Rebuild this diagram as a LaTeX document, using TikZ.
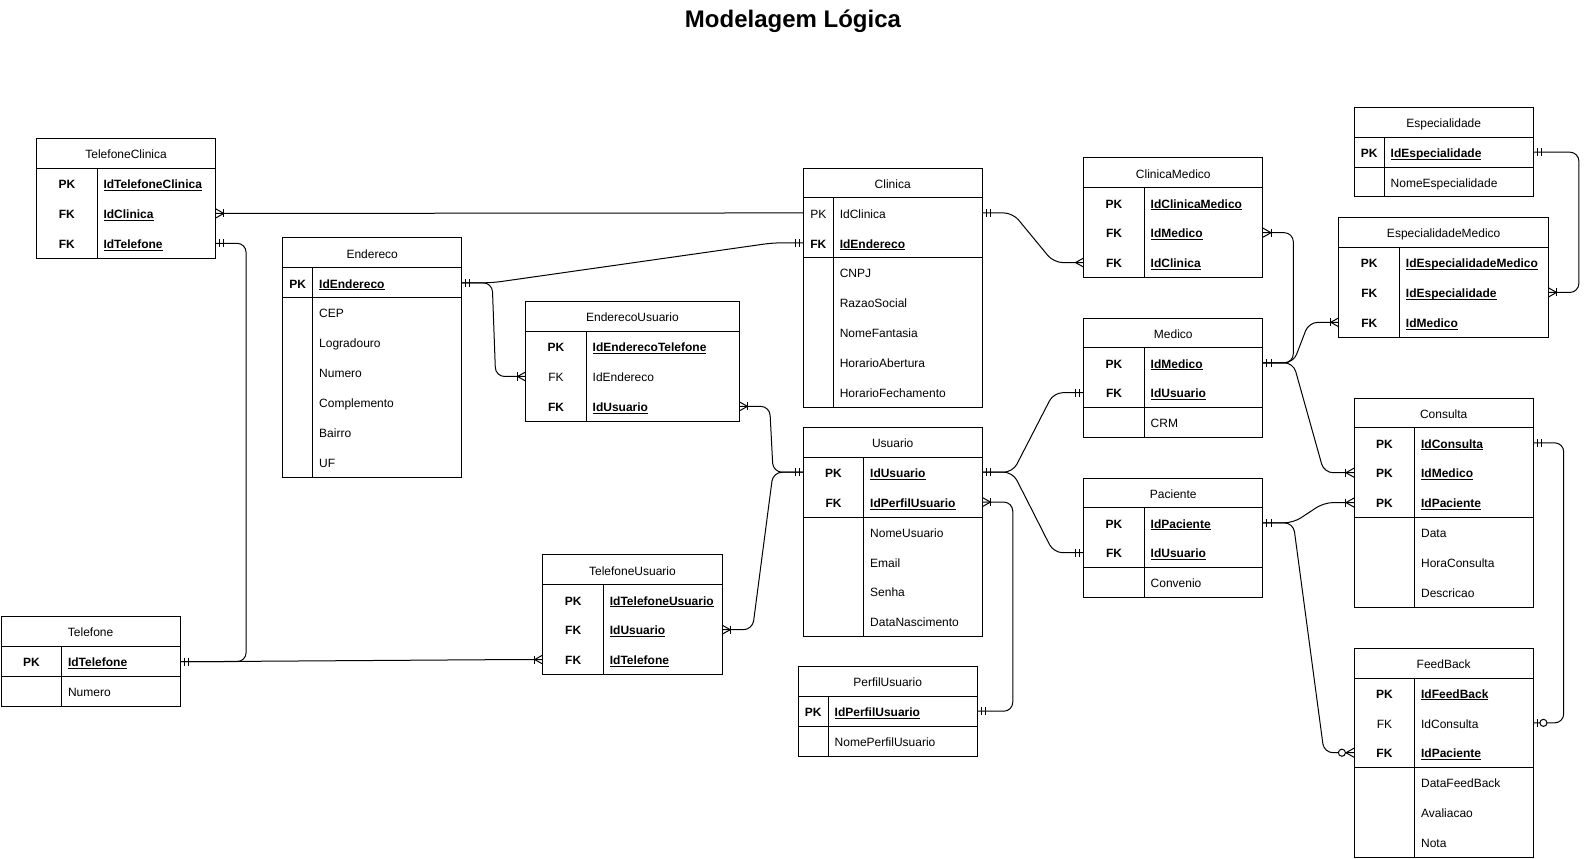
\documentclass[tikz,border=0pt]{standalone}
\usepackage{fontspec}
\setmainfont{Liberation Sans}
\newcommand\keyf[1]{\setbox0=\hbox{\bfseries #1}\rlap{\copy0}\rule[-2.2pt]{\wd0}{0.9pt}}
\def\ersc{1.01276}
\tikzset{
  ln/.style={line width=1pt, draw=black},
  tbl/.style={draw=black, line width=1pt, inner sep=0pt, outer sep=0pt},
  rowbox/.style={inner sep=0pt, outer sep=0pt, minimum height={29.5*\ersc*1pt}},
  hdr/.style={inner sep=0pt, text height=10.4pt, text depth=0pt, font=\fontsize{12}{14}\selectfont},
  keytxt/.style={inner sep=0pt, text height=10.4pt, text depth=0pt, font=\fontsize{12}{14}\selectfont},
  fldtxt/.style={inner sep=0pt, anchor=west, text height=10.4pt, text depth=0pt, font=\fontsize{12}{14}\selectfont},
  conn/.style={line width=1pt, rounded corners=9pt},
  mk/.style={line width=1pt},
}
\newcommand\ertable[8]{%
  \def\erL{#2}\def\erT{#3}\def\erW{#4}\def\erK{#5}%
  \pgfmathsetmacro\erH{29.5*(1+#6+#7)}%
  \node[tbl, minimum width={#4*\ersc*1pt}, minimum height={\erH*\ersc*1pt}, anchor=north west] (#1) at (#2,#3) {};
  \node[hdr] (#1h) at (#2+#4/2, #3+14.75) {#8};
  \draw[ln] (#2,#3+29.5) -- ++(#4,0);
  \draw[ln] (#2+#5,#3+29.5) -- (#2+#5,#3+\erH);
  \ifnum#7>0 \draw[ln] (#2,#3+29.5+29.5*#6) -- ++(#4,0);\fi
}
\newcommand\erow[4]{%
  \node[rowbox, minimum width={\erW*\ersc*1pt}, anchor=west] (#1) at (\erL, \erT+29.5*#2+14.75) {};
  \node[keytxt] (#1k) at (\erL+\erK/2, \erT+29.5*#2+14.75) {#3};
  \node[fldtxt] (#1f) at (\erL+\erK+6, \erT+29.5*#2+14.75) {#4};
}
\newcommand\mkOne[2]{\draw[mk,shift={(#1)}] (#2*4,-4) -- (#2*4,4) (#2*8,-4) -- (#2*8,4);}
\newcommand\mkMany[2]{\draw[mk,shift={(#1)}] (0,-4.5) -- (#2*8,0) -- (0,4.5);}
\newcommand\mkOneMany[2]{\mkMany{#1}{#2}\draw[mk,shift={(#1)}] (#2*8,-4) -- (#2*8,4);}
\newcommand\mkZeroMany[2]{\mkMany{#1}{#2}\draw[mk,shift={(#1)},fill=white] (#2*12,0) circle (3.5);}
\newcommand\mkZeroOne[2]{\draw[mk,shift={(#1)}] (#2*4,-4) -- (#2*4,4); \draw[mk,shift={(#1)},fill=white] (#2*10,0) circle (3.5);}
\begin{document}
\begin{tikzpicture}[x=1.01276pt,y=-1.01276pt]
\fill[white] (0,0) rectangle (1568,847.2);
\useasboundingbox (0,0) rectangle (1568,847.2);
\node[inner sep=0pt, text height=17.2pt, text depth=0pt, font=\fontsize{24}{28}\selectfont\bfseries] (title) at (783,19) {Modelagem Lógica};

% TelefoneClinica
\ertable{tc}{36}{137}{177}{60}{3}{0}{TelefoneClinica}
\erow{tc1}{1}{\textbf{PK}}{\keyf{IdTelefoneClinica}}
\erow{tc2}{2}{\textbf{FK}}{\keyf{IdClinica}}
\erow{tc3}{3}{\textbf{FK}}{\keyf{IdTelefone}}

% Endereco
\ertable{en}{279}{235}{177}{30}{1}{6}{Endereco}
\erow{en1}{1}{\textbf{PK}}{\keyf{IdEndereco}}
\erow{en2}{2}{}{CEP}
\erow{en3}{3}{}{Logradouro}
\erow{en4}{4}{}{Numero}
\erow{en5}{5}{}{Complemento}
\erow{en6}{6}{}{Bairro}
\erow{en7}{7}{}{UF}

% EnderecoUsuario
\ertable{eu}{519}{298}{211}{60}{3}{0}{EnderecoUsuario}
\erow{eu1}{1}{\textbf{PK}}{\keyf{IdEnderecoTelefone}}
\erow{eu2}{2}{FK}{IdEndereco}
\erow{eu3}{3}{\textbf{FK}}{\keyf{IdUsuario}}

% Clinica
\ertable{cl}{793}{166}{177}{30}{2}{5}{Clinica}
\erow{cl1}{1}{PK}{IdClinica}
\erow{cl2}{2}{\textbf{FK}}{\keyf{IdEndereco}}
\erow{cl3}{3}{}{CNPJ}
\erow{cl4}{4}{}{RazaoSocial}
\erow{cl5}{5}{}{NomeFantasia}
\erow{cl6}{6}{}{HorarioAbertura}
\erow{cl7}{7}{}{HorarioFechamento}

% ClinicaMedico
\ertable{cm}{1070}{156}{177}{60}{3}{0}{ClinicaMedico}
\erow{cm1}{1}{\textbf{PK}}{\keyf{IdClinicaMedico}}
\erow{cm2}{2}{\textbf{FK}}{\keyf{IdMedico}}
\erow{cm3}{3}{\textbf{FK}}{\keyf{IdClinica}}

% Especialidade
\ertable{es}{1337}{106}{177}{30}{1}{1}{Especialidade}
\erow{es1}{1}{\textbf{PK}}{\keyf{IdEspecialidade}}
\erow{es2}{2}{}{NomeEspecialidade}

% EspecialidadeMedico
\ertable{em}{1322}{215}{207}{60}{3}{0}{EspecialidadeMedico}
\erow{em1}{1}{\textbf{PK}}{\keyf{IdEspecialidadeMedico}}
\erow{em2}{2}{\textbf{FK}}{\keyf{IdEspecialidade}}
\erow{em3}{3}{\textbf{FK}}{\keyf{IdMedico}}

% Medico
\ertable{me}{1070}{314}{177}{60}{2}{1}{Medico}
\erow{me1}{1}{\textbf{PK}}{\keyf{IdMedico}}
\erow{me2}{2}{\textbf{FK}}{\keyf{IdUsuario}}
\erow{me3}{3}{}{CRM}

% Usuario
\ertable{us}{793}{422}{177}{60}{2}{4}{Usuario}
\erow{us1}{1}{\textbf{PK}}{\keyf{IdUsuario}}
\erow{us2}{2}{\textbf{FK}}{\keyf{IdPerfilUsuario}}
\erow{us3}{3}{}{NomeUsuario}
\erow{us4}{4}{}{Email}
\erow{us5}{5}{}{Senha}
\erow{us6}{6}{}{DataNascimento}

% Paciente
\ertable{pa}{1070}{472}{177}{60}{2}{1}{Paciente}
\erow{pa1}{1}{\textbf{PK}}{\keyf{IdPaciente}}
\erow{pa2}{2}{\textbf{FK}}{\keyf{IdUsuario}}
\erow{pa3}{3}{}{Convenio}

% Consulta
\ertable{co}{1337}{393}{177}{60}{3}{3}{Consulta}
\erow{co1}{1}{\textbf{PK}}{\keyf{IdConsulta}}
\erow{co2}{2}{\textbf{PK}}{\keyf{IdMedico}}
\erow{co3}{3}{\textbf{PK}}{\keyf{IdPaciente}}
\erow{co4}{4}{}{Data}
\erow{co5}{5}{}{HoraConsulta}
\erow{co6}{6}{}{Descricao}

% FeedBack
\ertable{fb}{1337}{640}{177}{60}{3}{3}{FeedBack}
\erow{fb1}{1}{\textbf{PK}}{\keyf{IdFeedBack}}
\erow{fb2}{2}{FK}{IdConsulta}
\erow{fb3}{3}{\textbf{FK}}{\keyf{IdPaciente}}
\erow{fb4}{4}{}{DataFeedBack}
\erow{fb5}{5}{}{Avaliacao}
\erow{fb6}{6}{}{Nota}

% TelefoneUsuario
\ertable{tu}{536}{548}{177}{60}{3}{0}{TelefoneUsuario}
\erow{tu1}{1}{\textbf{PK}}{\keyf{IdTelefoneUsuario}}
\erow{tu2}{2}{\textbf{FK}}{\keyf{IdUsuario}}
\erow{tu3}{3}{\textbf{FK}}{\keyf{IdTelefone}}

% Telefone
\ertable{te}{1}{609}{177}{60}{1}{1}{Telefone}
\erow{te1}{1}{\textbf{PK}}{\keyf{IdTelefone}}
\erow{te2}{2}{}{Numero}

% PerfilUsuario
\ertable{pu}{788}{658}{177}{30}{1}{1}{PerfilUsuario}
\erow{pu1}{1}{\textbf{PK}}{\keyf{IdPerfilUsuario}}
\erow{pu2}{2}{}{NomePerfilUsuario}

% connectors
\draw[conn] (tc2.east) -- (cl1.west);
\draw[conn] (tc3.east) -- ++(30,0) |- (te1.east);
\draw[conn] (te1.east) -- ++(30,0) -- ([xshift=-30pt]tu3.west) -- (tu3.west);
\draw[conn] (en1.east) -- ++(30,0) -- ([xshift=-30pt]cl2.west) -- (cl2.west);
\draw[conn] (en1.east) -- ++(30,0) -- ([xshift=-30pt]eu2.west) -- (eu2.west);
\draw[conn] (eu3.east) -- ++(30,0) -- ([xshift=-30pt]us1.west) -- (us1.west);
\draw[conn] (tu2.east) -- ++(30,0) -- ([xshift=-30pt]us1.west) -- (us1.west);
\draw[conn] (us2.east) -- ++(30,0) |- (pu1.east);
\draw[conn] (us1.east) -- ++(30,0) -- ([xshift=-30pt]me2.west) -- (me2.west);
\draw[conn] (us1.east) -- ++(30,0) -- ([xshift=-30pt]pa2.west) -- (pa2.west);
\draw[conn] (cl1.east) -- ++(30,0) -- ([xshift=-30pt]cm3.west) -- (cm3.west);
\draw[conn] (cm2.east) -- ++(30,0) |- (me1.east);
\draw[conn] (me1.east) -- ++(30,0) -- ([xshift=-30pt]em3.west) -- (em3.west);
\draw[conn] (me1.east) -- ++(30,0) -- ([xshift=-30pt]co2.west) -- (co2.west);
\draw[conn] (es1.east) -- ++(45,0) |- (em2.east);
\draw[conn] (pa1.east) -- ++(30,0) -- ([xshift=-30pt]co3.west) -- (co3.west);
\draw[conn] (pa1.east) -- ++(30,0) -- ([xshift=-30pt]fb3.west) -- (fb3.west);
\draw[conn] (co1.east) -- ++(30,0) |- (fb2.east);

% markers
\mkOneMany{tc2.east}{1}
\mkOne{tc3.east}{1}
\mkOne{te1.east}{1}
\mkOneMany{tu3.west}{-1}
\mkOne{en1.east}{1}
\mkOne{cl2.west}{-1}
\mkOneMany{eu2.west}{-1}
\mkOneMany{eu3.east}{1}
\mkOne{us1.west}{-1}
\mkOneMany{tu2.east}{1}
\mkOneMany{us2.east}{1}
\mkOne{pu1.east}{1}
\mkOne{us1.east}{1}
\mkOne{me2.west}{-1}
\mkOne{pa2.west}{-1}
\mkOne{cl1.east}{1}
\mkMany{cm3.west}{-1}
\mkOneMany{cm2.east}{1}
\mkOne{me1.east}{1}
\mkOneMany{em3.west}{-1}
\mkOneMany{co2.west}{-1}
\mkOne{es1.east}{1}
\mkOneMany{em2.east}{1}
\mkOne{pa1.east}{1}
\mkOneMany{co3.west}{-1}
\mkZeroMany{fb3.west}{-1}
\mkOne{co1.east}{1}
\mkZeroOne{fb2.east}{1}
\end{tikzpicture}
\end{document}
